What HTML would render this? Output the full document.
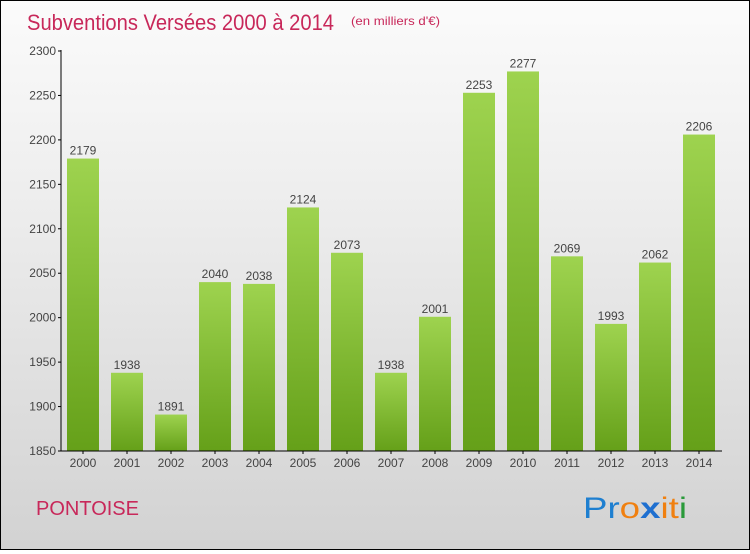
<!DOCTYPE html>
<html><head><meta charset="utf-8"><style>
body{margin:0}
#c{width:748px;height:548px;border:1px solid #000;background:linear-gradient(#fbfbfb,#ececec 40%,#d2d2d2);position:relative;font-family:"Liberation Sans",sans-serif}
</style></head><body>
<div id="c">
<svg id="s" width="748" height="548">
<defs><linearGradient id="g" x1="0" y1="0" x2="0" y2="1"><stop offset="0" stop-color="#9ed34f"/><stop offset="1" stop-color="#65a019"/></linearGradient></defs>
<text x="26" y="29" font-size="22" fill="#c8285a" textLength="307" lengthAdjust="spacingAndGlyphs">Subventions Versées 2000 à 2014</text>
<text x="350" y="24" font-size="12" fill="#c8285a" textLength="89" lengthAdjust="spacingAndGlyphs">(en milliers d'€)</text>
<text x="35" y="514" font-size="20" fill="#c8285a">PONTOISE</text>
<text x="582" y="517" font-size="30" textLength="104" lengthAdjust="spacingAndGlyphs"><tspan fill="#1e7fd0">Pr</tspan><tspan fill="#f08010">o</tspan><tspan fill="#1e6fd0" font-weight="bold">x</tspan><tspan fill="#f08010">i</tspan><tspan fill="#f08010">t</tspan><tspan fill="#2a9a3a">i</tspan></text>
</svg></div>
<script>
const categories=["2000","2001","2002","2003","2004","2005","2006","2007","2008","2009","2010","2011","2012","2013","2014"];
const values=[2179,1938,1891,2040,2038,2124,2073,1938,2001,2253,2277,2069,1993,2062,2206];
const yTicks=[1850,1900,1950,2000,2050,2100,2150,2200,2250,2300];
const s=document.getElementById('s');const NS='http://www.w3.org/2000/svg';
const y=v=>450-(v-1850)*400/450;const x=i=>82+i*44;
function mk(t,a){const e=document.createElementNS(NS,t);for(const k in a)e.setAttribute(k,a[k]);s.appendChild(e);return e;}
values.forEach((v,i)=>{
const r=mk('rect',{x:x(i)-16,y:y(v),width:32,height:450-y(v),fill:'url(#g)'});


const t=mk('text',{x:x(i),y:y(v)-4,'font-size':12,fill:'#444','text-anchor':'middle'});t.textContent=v;


const c=mk('text',{x:x(i),y:466,'font-size':12,fill:'#444','text-anchor':'middle'});c.textContent=categories[i];


mk('line',{x1:x(i),x2:x(i),y1:450,y2:453,stroke:'#000'});
});
yTicks.forEach(v=>{
mk('line',{x1:57,x2:60,y1:y(v),y2:y(v),stroke:'#000'});
const t=mk('text',{x:55,y:y(v)+4,'font-size':12,fill:'#444','text-anchor':'end'});t.textContent=v;


});
const ya=mk('line',{x1:60,x2:60,y1:49,y2:450,stroke:'#000'});


const xa=mk('line',{x1:60,x2:721,y1:450,y2:450,stroke:'#000'});


</script>
</body></html>
